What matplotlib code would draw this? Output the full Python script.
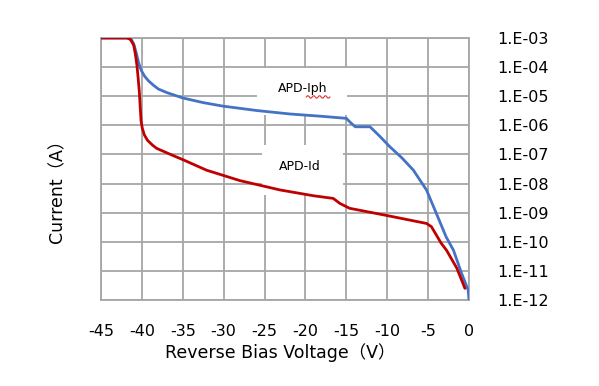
import numpy as np
import matplotlib
matplotlib.use("Agg")
import matplotlib.pyplot as plt
from matplotlib.patches import Rectangle
from matplotlib.lines import Line2D

plt.rcParams['font.family'] = ['DejaVu Sans', 'Noto Sans CJK SC']

# Data
iph_voltage = [-45, -41.7, -41.3, -41.0, -40.7, -40.4, -40.1, -39.7, -39.2, -38.6,
               -38.0, -37.0, -35.0, -32.5, -30.1, -26.0, -21.9, -18.0, -15.0, -14.4,
               -13.9, -12.1, -11.0, -9.7, -8.2, -6.8, -5.2, -4.0, -2.8, -1.9,
               -0.9, -0.1, 0.0]
iph_log10 = [-3.0, -3.0, -3.05, -3.2, -3.5, -3.85, -4.1, -4.3, -4.47, -4.62,
             -4.75, -4.87, -5.06, -5.22, -5.34, -5.49, -5.61, -5.69, -5.76, -5.93,
             -6.05, -6.05, -6.35, -6.73, -7.12, -7.54, -8.22, -9.02, -9.83, -10.29,
             -11.09, -11.66, -12.0]

id_voltage = [-45, -41.8, -41.4, -41.0, -40.8, -40.6, -40.45, -40.3, -40.2, -40.1,
              -39.95, -39.7, -39.3, -38.7, -38.2, -36.5, -34.9, -32.1, -28.0, -23.1,
              -19.0, -16.6, -15.8, -14.6, -10.0, -5.2, -4.6, -3.4, -2.75, -1.5,
              -0.5]
id_log10 = [-3.0, -3.0, -3.05, -3.25, -3.55, -3.95, -4.4, -4.9, -5.4, -5.85,
            -6.1, -6.33, -6.52, -6.68, -6.79, -7.0, -7.19, -7.54, -7.9, -8.22,
            -8.42, -8.51, -8.68, -8.85, -9.1, -9.37, -9.48, -10.05, -10.29, -10.9,
            -11.6]

x_ticks = [-45, -40, -35, -30, -25, -20, -15, -10, -5, 0]
y_exponents = [-3, -4, -5, -6, -7, -8, -9, -10, -11, -12]
y_tick_labels = ["1.E-03", "1.E-04", "1.E-05", "1.E-06", "1.E-07",
                 "1.E-08", "1.E-09", "1.E-10", "1.E-11", "1.E-12"]

iph_current = 10.0 ** np.array(iph_log10)
id_current = 10.0 ** np.array(id_log10)

fig = plt.figure(figsize=(5.99, 3.86), dpi=100)
ax = fig.add_axes([101/599, 1 - 300/386, 368/599, 262/386])

grid_color = '#a6a6a6'
ax.set_xlim(-45, 0)
ax.set_yscale('log')
ax.set_ylim(1e-12, 1e-3)
ax.set_xticks(x_ticks)
ax.set_xticklabels([str(t) for t in x_ticks], fontsize=11.5)
ax.set_yticks([10.0 ** e for e in y_exponents])
ax.set_yticklabels(y_tick_labels, fontsize=11.5)
ax.yaxis.set_minor_locator(matplotlib.ticker.NullLocator())
ax.yaxis.tick_right()
ax.tick_params(axis='both', length=0)
ax.tick_params(axis='x', pad=17)
ax.tick_params(axis='y', pad=20)
ax.grid(True, which='major', color=grid_color, linewidth=1.3, zorder=0)
ax.set_axisbelow(True)
for s in ax.spines.values():
    s.set_color(grid_color)
    s.set_linewidth(1.3)

# white label boxes covering grid
ax.add_patch(Rectangle((0.424, 0.706), 0.244, 0.179, transform=ax.transAxes,
                       facecolor='white', edgecolor='none', zorder=1.5))
ax.add_patch(Rectangle((0.4375, 0.40), 0.2205, 0.192, transform=ax.transAxes,
                       facecolor='white', edgecolor='none', zorder=1.5))

ax.plot(iph_voltage, iph_current, color='#4472C4', linewidth=2.0, zorder=3,
        solid_capstyle='round', solid_joinstyle='round')
ax.plot(id_voltage, id_current, color='#C00000', linewidth=2.0, zorder=3,
        solid_capstyle='round', solid_joinstyle='round')

ax.text(0.549, 0.809, "APD-Iph", transform=ax.transAxes, ha='center', va='center',
        fontsize=9, zorder=4)
ax.text(0.541, 0.511, "APD-Id", transform=ax.transAxes, ha='center', va='center',
        fontsize=9, zorder=4)
# spell-check wavy underline under "ph"
wx = np.linspace(0.558, 0.622, 25)
wy = 0.775 + 0.005 * np.sin((wx - 0.558) / 0.064 * 2 * np.pi * 4)
ax.add_line(Line2D(wx, wy, transform=ax.transAxes, color='#e03030', linewidth=0.8, zorder=4))

fig.text(280/599, 1 - 353/386, "Reverse Bias Voltage（V）", ha='center', va='center',
         fontsize=12.5)
fig.text(57/599, 1 - 187/386, "Current（A）", ha='center', va='center',
         rotation=90, fontsize=12.5)

fig.savefig("out.png", dpi=100)
